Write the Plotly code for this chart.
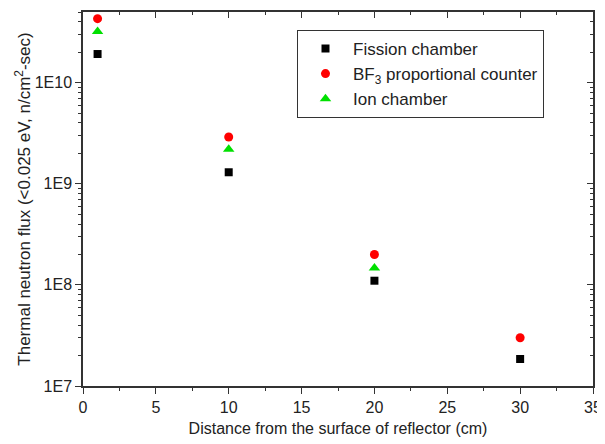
import plotly.graph_objects as go

distance = [1, 10, 20, 30]
fission = [1.92e10, 1.30e9, 1.10e8, 1.85e7]
bf3 = [4.30e10, 2.90e9, 2.00e8, 3.00e7]
ion_x = [1, 10, 20]
ion = [3.20e10, 2.20e9, 1.47e8]

y_tickvals = [1e7, 1e8, 1e9, 1e10]
y_ticktext = ["1E7", "1E8", "1E9", "1E10"]
y_minor = [m * 10 ** e for e in range(7, 11) for m in range(2, 10) if m * 10 ** e <= 5e10]

FONT = "Liberation Sans, Arial, sans-serif"
AX = "#333333"

fig = go.Figure()
fig.add_trace(go.Scatter(x=distance, y=fission, mode="markers", name="Fission chamber",
                         marker=dict(symbol="square", size=8, color="black")))
fig.add_trace(go.Scatter(x=distance, y=bf3, mode="markers", name="BF<sub>3</sub> proportional counter",
                         marker=dict(symbol="circle", size=9, color="#ff0000")))
fig.add_trace(go.Scatter(x=ion_x, y=ion, mode="markers", name="Ion chamber",
                         marker=dict(symbol="triangle-up", size=10, color="#00e000")))
# invisible trace for the mirrored (inside-tick) top/right axes
fig.add_trace(go.Scatter(x=[0], y=[1e8], xaxis="x2", yaxis="y2", mode="markers",
                         marker=dict(opacity=0), showlegend=False, hoverinfo="skip"))

common = dict(showgrid=False, zeroline=False, showline=True, linecolor=AX, linewidth=1.5,
              tickcolor=AX, tickwidth=1.2)

fig.update_layout(
    width=597, height=436,
    margin=dict(l=75, r=12, t=4, b=58, autoexpand=False),
    paper_bgcolor="white", plot_bgcolor="white",
    font=dict(family=FONT, size=16, color="#222222"),
    showlegend=True,
    legend=dict(x=0.4196, y=0.952, xanchor="left", yanchor="top",
                bordercolor="#333333", borderwidth=1, bgcolor="white",
                itemwidth=45, entrywidth=232,
                font=dict(size=17, family=FONT, color="#222222")),
    xaxis=dict(range=[0, 35], tickmode="linear", tick0=0, dtick=5, ticks="outside", ticklen=6,
               minor=dict(tickmode="linear", tick0=0, dtick=2.5, ticks="outside", ticklen=3,
                          tickcolor=AX, tickwidth=1.2),
               title=dict(text="Distance from the surface of reflector (cm)",
                          font=dict(size=16, family=FONT), standoff=8),
               tickfont=dict(size=16), **common),
    yaxis=dict(type="log", range=[7, 10.699], tickmode="array", tickvals=y_tickvals,
               ticktext=y_ticktext, ticks="outside", ticklen=6,
               minor=dict(tickmode="array", tickvals=y_minor, ticks="outside", ticklen=3,
                          tickcolor=AX, tickwidth=1.2),
               title=dict(text="Thermal neutron flux (<0.025 eV, n/cm<sup>2</sup>-sec)",
                          font=dict(size=17, family=FONT), standoff=0),
               tickfont=dict(size=16), **common),
    xaxis2=dict(overlaying="x", side="top", range=[0, 35], tickmode="linear", tick0=0, dtick=5,
                ticks="inside", ticklen=6, showticklabels=False,
                minor=dict(tickmode="linear", tick0=0, dtick=2.5, ticks="inside", ticklen=3,
                           tickcolor=AX, tickwidth=1.2),
                **common),
    yaxis2=dict(overlaying="y", side="right", type="log", range=[7, 10.699], tickmode="array",
                tickvals=y_tickvals, ticks="inside", ticklen=6, showticklabels=False,
                minor=dict(tickmode="array", tickvals=y_minor, ticks="inside", ticklen=3,
                           tickcolor=AX, tickwidth=1.2),
                **common),
)

fig.write_html("out.html")
